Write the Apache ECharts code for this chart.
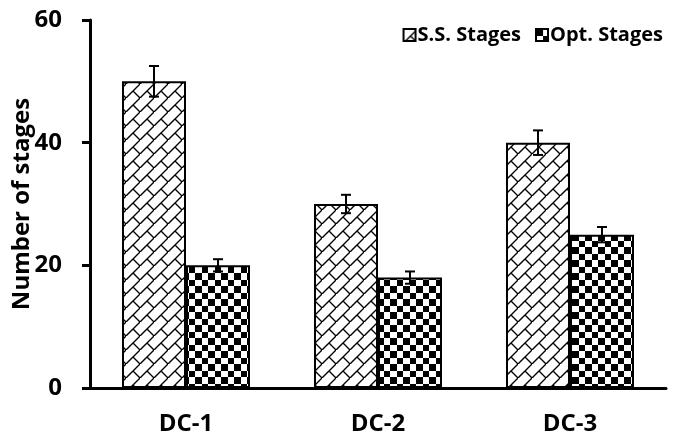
<!DOCTYPE html>
<html>
<head>
<meta charset="utf-8">
<script src="https://cdn.jsdelivr.net/npm/echarts@6/dist/echarts.min.js"></script>
<style>
  html, body { margin: 0; padding: 0; background: #fff; }
  #chart { width: 680px; height: 436px; }
</style>
</head>
<body>
<div id="chart"></div>
<script>
// Stage counts per distillation column
const categories = ['DC-1', 'DC-2', 'DC-3'];
const ssStages = [50, 30, 40];
const optStages = [20, 18, 25];
const ssErr = [2.5, 1.5, 2];
const optErr = [1, 1, 1.25];
const seriesNames = ['S.S. Stages', 'Opt. Stages'];
const yTicks = [0, 20, 40, 60];

const FONT = '"Open Sans", "Liberation Sans", sans-serif';

// Diagonal brick hatch tile
function brickPattern() {
  const s = 14;
  const c = document.createElement('canvas');
  c.width = s; c.height = s;
  const g = c.getContext('2d');
  g.fillStyle = '#fff';
  g.fillRect(0, 0, s, s);
  g.strokeStyle = '#000';
  g.lineWidth = 1.4;
  g.beginPath();
  g.moveTo(-1, s + 1); g.lineTo(s + 1, -1);
  g.moveTo(s / 2, s / 2); g.lineTo(s + 1, s + 1);
  g.stroke();
  return c;
}

// Checkerboard tile
function checkerPattern() {
  const c = document.createElement('canvas');
  c.width = 13; c.height = 13;
  const g = c.getContext('2d');
  g.fillStyle = '#fff';
  g.fillRect(0, 0, 13, 13);
  g.fillStyle = '#000';
  g.fillRect(0, 0, 7, 7);
  g.fillRect(7, 7, 6, 6);
  return c;
}

const fills = [
  { image: brickPattern(), repeat: 'repeat' },
  { image: checkerPattern(), repeat: 'repeat' }
];

const BAR_W = 64;

function errorSeries(values, errs, idx) {
  return {
    type: 'custom',
    name: seriesNames[idx] + ' error',
    silent: true,
    z: 5,
    data: values.map((v, i) => [i, v, errs[i]]),
    renderItem: function (params, api) {
      const i = api.value(0);
      const v = api.value(1);
      const e = api.value(2);
      const top = api.coord([i, v + e]);
      const bot = api.coord([i, v - e]);
      const x = top[0] + (idx === 0 ? -BAR_W / 2 : BAR_W / 2);
      const cap = 5;
      const style = { stroke: '#000', lineWidth: 2 };
      return {
        type: 'group',
        children: [
          { type: 'line', shape: { x1: x, y1: top[1], x2: x, y2: bot[1] }, style },
          { type: 'line', shape: { x1: x - cap, y1: top[1], x2: x + cap, y2: top[1] }, style },
          { type: 'line', shape: { x1: x - cap, y1: bot[1], x2: x + cap, y2: bot[1] }, style }
        ]
      };
    }
  };
}

const chart = echarts.init(document.getElementById('chart'), null, { renderer: 'canvas' });

chart.setOption({
  animation: false,
  backgroundColor: '#fff',
  grid: { left: 90, right: 14, top: 20, bottom: 48, containLabel: false, outerBoundsMode: 'none' },
  legend: {
    data: seriesNames,
    top: 20,
    right: 12,
    itemWidth: 12,
    itemHeight: 12,
    itemGap: 14,
    icon: 'rect',
    textStyle: { fontFamily: FONT, fontWeight: 'bold', fontSize: 20, color: '#000', padding: [0, 0, 0, -3] }
  },
  xAxis: {
    type: 'category',
    data: categories,
    axisLine: { lineStyle: { color: '#000', width: 3 } },
    axisTick: { show: false },
    axisLabel: { fontFamily: FONT, fontWeight: 'bold', fontSize: 24, color: '#000', margin: 24 }
  },
  yAxis: {
    type: 'value',
    min: yTicks[0],
    max: yTicks[yTicks.length - 1],
    interval: 20,
    name: 'Number of stages',
    nameLocation: 'middle',
    nameGap: 56,
    nameMoveOverlap: false,
    nameTextStyle: { fontFamily: FONT, fontWeight: 'bold', fontSize: 24, color: '#000' },
    splitLine: { show: false },
    axisLine: { show: true, lineStyle: { color: '#000', width: 3 } },
    axisTick: { show: true, inside: false, length: 8, lineStyle: { color: '#000', width: 3 } },
    axisLabel: { fontFamily: FONT, fontWeight: 'bold', fontSize: 24, color: '#000', margin: 28 }
  },
  series: [
    {
      type: 'bar',
      name: seriesNames[0],
      data: ssStages,
      barWidth: BAR_W,
      barGap: '0%',
      itemStyle: { color: fills[0], borderColor: '#000', borderWidth: 2 }
    },
    {
      type: 'bar',
      name: seriesNames[1],
      data: optStages,
      barWidth: BAR_W,
      barGap: '0%',
      itemStyle: { color: fills[1], borderColor: '#000', borderWidth: 2 }
    },
    errorSeries(ssStages, ssErr, 0),
    errorSeries(optStages, optErr, 1)
  ]
});
</script>
</body>
</html>
